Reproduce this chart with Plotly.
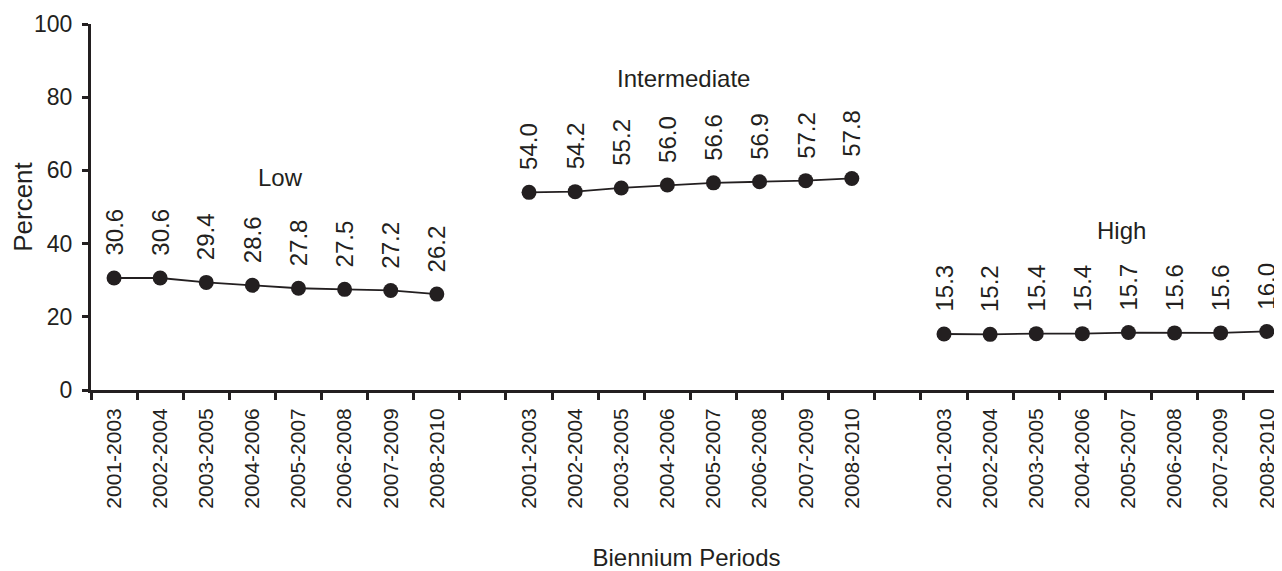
import plotly.graph_objects as go

periods = ["2001-2003", "2002-2004", "2003-2005", "2004-2006",
           "2005-2007", "2006-2008", "2007-2009", "2008-2010"]
groups = ["Low", "Intermediate", "High"]
low = [30.6, 30.6, 29.4, 28.6, 27.8, 27.5, 27.2, 26.2]
intermediate = [54.0, 54.2, 55.2, 56.0, 56.6, 56.9, 57.2, 57.8]
high = [15.3, 15.2, 15.4, 15.4, 15.7, 15.6, 15.6, 16.0]
series = [low, intermediate, high]
# group label positions (x in category units, y in percent)
group_label_pos = [(3.6, 58), (12.35, 85), (21.85, 43.6)]

INK = "#231f20"
FONT = "Liberation Sans, Arial, sans-serif"

fig = go.Figure()
centers = []
labels = []
for g, vals in enumerate(series):
    xs = [g * 9 + i for i in range(len(vals))]
    centers += xs
    labels += periods
    fig.add_trace(go.Scatter(
        x=xs, y=vals, mode="lines+markers",
        line=dict(color=INK, width=1.8),
        marker=dict(color=INK, size=15),
        showlegend=False, hoverinfo="skip", cliponaxis=False,
    ))
    for x, v in zip(xs, vals):
        fig.add_annotation(x=x, y=v, text=f"{v:.1f}", textangle=-90,
                           showarrow=False, xanchor="center", yanchor="bottom",
                           yshift=20, font=dict(size=24, color=INK, family=FONT))
    gx, gy = group_label_pos[g]
    fig.add_annotation(x=gx, y=gy, text=groups[g], showarrow=False,
                       font=dict(size=24, color=INK, family=FONT))

xr = [-0.5, 25.33]
boundaries = [k - 0.5 for k in range(27)]

fig.update_layout(
    width=1274, height=563,
    margin=dict(l=83, r=0, t=16, b=181, autoexpand=False),
    paper_bgcolor="white", plot_bgcolor="white",
    font=dict(family=FONT, color=INK),
    xaxis=dict(
        range=xr, tickmode="array", tickvals=boundaries, automargin=False,
        showticklabels=False, ticks="outside", ticklen=7, tickwidth=2.5,
        tickcolor=INK, showline=True, linecolor=INK, linewidth=3,
        showgrid=False, zeroline=False,
    ),
    xaxis2=dict(
        range=xr, overlaying="x", anchor="y", side="bottom", automargin=False,
        tickmode="array", tickvals=centers, ticktext=labels,
        tickangle=-90, ticks="", ticklabelstandoff=13,
        tickfont=dict(size=21, color=INK, family=FONT),
        showline=False, showgrid=False, zeroline=False,
        title=dict(text="Biennium Periods", font=dict(size=24, color=INK, family=FONT),
                   standoff=56),
    ),
    yaxis=dict(
        range=[0, 100], tickmode="array", tickvals=[0, 20, 40, 60, 80, 100],
        automargin=False, ticklabelstandoff=5,
        ticks="outside", ticklen=6, tickwidth=2.5, tickcolor=INK,
        showline=True, linecolor=INK, linewidth=3, showgrid=False, zeroline=False,
        tickfont=dict(size=23, color=INK, family=FONT),
        title=dict(text="Percent", font=dict(size=26, color=INK, family=FONT), standoff=8),
    ),
)
fig.add_trace(go.Scatter(x=[centers[0]], y=[None], xaxis="x2", showlegend=False,
                         hoverinfo="skip"))

fig.write_html("out.html")
